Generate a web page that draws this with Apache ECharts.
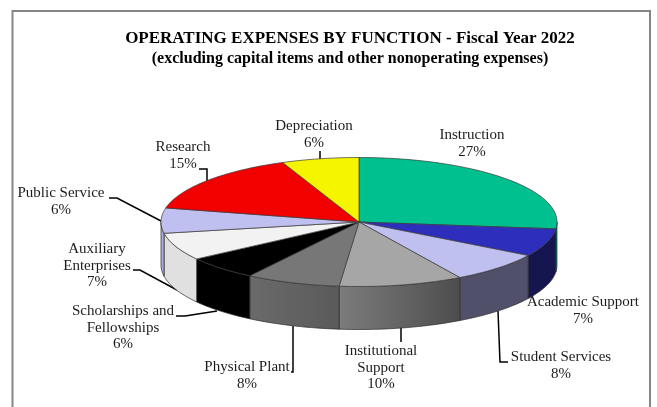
<!DOCTYPE html>
<html>
<head>
<meta charset="utf-8">
<title>Operating expenses by function</title>
<script src="https://cdn.jsdelivr.net/npm/echarts@6/dist/echarts.min.js"></script>
<style>
  html, body { margin: 0; padding: 0; background: #fff; }
  #chart { width: 657px; height: 407px; }
</style>
</head>
<body>
<div id="chart"></div>
<script>
// clockwise from 12 o'clock (labels are rounded, slices are not)
const functionNames = ['Instruction', 'Academic Support', 'Student Services', 'Institutional Support', 'Physical Plant',
  'Scholarships and Fellowships', 'Auxiliary Enterprises', 'Public Service', 'Research', 'Depreciation']
const sliceShares = [26.7, 7, 7.8, 10.1, 7.7, 6, 6.9, 6.3, 15.2, 6.3]
const shareLabels = ['27%', '7%', '8%', '10%', '8%', '6%', '7%', '6%', '15%', '6%']
const labelLines = [
  ['Instruction'], ['Academic Support'], ['Student Services'], ['Institutional', 'Support'], ['Physical Plant'],
  ['Scholarships and', 'Fellowships'], ['Auxiliary', 'Enterprises'], ['Public Service'], ['Research'], ['Depreciation'],
]

const topColors = ['#00c08f', '#2e2ebd', '#c0c0f0', '#a6a6a6', '#777777', '#000000', '#f2f2f2', '#c0c0f0', '#f20000', '#f5f500']
// side wall: [left, right] of a horizontal gradient
const sideColors = [
  ['#00a078', '#00a078'], ['#15154f', '#15154f'], ['#50506a', '#50506a'], ['#7c7c7c', '#4d4d4d'], ['#6a6a6a', '#5a5a5a'],
  ['#000000', '#000000'], ['#e0e0e0', '#e0e0e0'], ['#a9a9e0', '#a9a9e0'], ['#c00000', '#c00000'], ['#c0c000', '#c0c000'],
]

// label anchor (centre x, first line centre y) and leader polyline, pixels
const labelPos = [[472, 135], [583, 302], [561, 357], [381, 351], [247, 367], [123, 311], [97, 249], [61, 193], [183, 147], [314, 126]]
const leaders = [
  null,
  null,
  [[508, 362], [500, 362], [498, 311]],
  [[401, 342], [401, 328]],
  [[291, 372], [293, 372], [293, 326]],
  [[176, 316], [185, 316], [217, 311]],
  [[133, 270], [140, 270], [177, 290]],
  [[109, 198], [117, 198], [161, 221]],
  [[199, 169], [207, 169], [207, 181]],
  [[320, 151], [320, 159]],
]

const DEPTH = 43
const LINE_H = 16.7
const FONT = '"Liberation Serif", "Times New Roman", serif'
const INK = '#1c1c1c'

const total = sliceShares.reduce((a, b) => a + b, 0)
const sliceStart = []
sliceShares.reduce((acc, v, i) => { sliceStart[i] = acc; return acc + v }, 0)

function toAngle(share) { return share / total * 2 * Math.PI }

function rimPoints(api, a0, a1) {
  const pts = []
  const steps = Math.max(2, Math.ceil((a1 - a0) / 0.03))
  for (let k = 0; k <= steps; k++) {
    const a = a0 + (a1 - a0) * k / steps
    pts.push(api.coord([Math.sin(a), Math.cos(a)]))
  }
  return pts
}

function renderTop(params, api) {
  const i = params.dataIndex
  const a0 = toAngle(sliceStart[i])
  const a1 = toAngle(sliceStart[i] + sliceShares[i])
  const points = [api.coord([0, 0])].concat(rimPoints(api, a0, a1))
  return {
    type: 'polygon',
    shape: { points },
    style: { fill: topColors[i], stroke: '#3a3a3a', lineWidth: 0.7 },
  }
}

function renderSide(params, api) {
  const i = params.dataIndex
  // only the front half of the rim shows a wall
  const a0 = Math.max(toAngle(sliceStart[i]), Math.PI / 2)
  const a1 = Math.min(toAngle(sliceStart[i] + sliceShares[i]), Math.PI * 1.5)
  if (a1 <= a0) return null
  const upper = rimPoints(api, a0, a1)
  const lower = upper.map(p => [p[0], p[1] + DEPTH]).reverse()
  return {
    type: 'polygon',
    shape: { points: upper.concat(lower) },
    style: {
      fill: new echarts.graphic.LinearGradient(0, 0, 1, 0, [
        { offset: 0, color: sideColors[i][0] },
        { offset: 1, color: sideColors[i][1] },
      ]),
      stroke: '#2a2a2a',
      lineWidth: 0.7,
    },
  }
}

const graphicItems = [
  { type: 'rect', silent: true, shape: { x: 12.5, y: 11, width: 637.5, height: 420 },
    style: { fill: 'none', stroke: '#858585', lineWidth: 2 } },
]
leaders.forEach(pts => {
  if (!pts) return
  graphicItems.push({ type: 'polyline', silent: true, shape: { points: pts },
    style: { fill: 'none', stroke: '#000', lineWidth: 1.5 } })
})
functionNames.forEach((name, i) => {
  labelLines[i].concat(shareLabels[i]).forEach((line, k) => {
    graphicItems.push({
      type: 'text', silent: true, x: labelPos[i][0], y: labelPos[i][1] + k * LINE_H,
      style: { text: line, fill: INK, font: '15px ' + FONT, align: 'center', verticalAlign: 'middle' },
    })
  })
})

const chart = echarts.init(document.getElementById('chart'), null, { renderer: 'canvas' })
const sliceData = functionNames.map((name, i) => ({ name, value: [i, sliceShares[i]] }))
chart.setOption({
  animation: false,
  title: [
    { text: 'OPERATING EXPENSES BY FUNCTION - Fiscal Year 2022', left: 345, top: 25, textAlign: 'center',
      textStyle: { fontFamily: FONT, fontSize: 17, fontWeight: 'bold', color: '#000' } },
    { text: '(excluding capital items and other nonoperating expenses)', left: 345, top: 46, textAlign: 'center',
      textStyle: { fontFamily: FONT, fontSize: 16, fontWeight: 'bold', color: '#000' } },
  ],
  // the unit circle on this grid is the pie's top face
  grid: { left: 161, top: 157.5, width: 396, height: 129 },
  xAxis: { type: 'value', min: -1, max: 1, show: false },
  yAxis: { type: 'value', min: -1, max: 1, show: false },
  series: [
    { type: 'custom', renderItem: renderSide, data: sliceData, silent: true, clip: false, z: 1 },
    { type: 'custom', renderItem: renderTop, data: sliceData, silent: true, clip: false, z: 2 },
  ],
  graphic: graphicItems,
})
</script>
</body>
</html>
